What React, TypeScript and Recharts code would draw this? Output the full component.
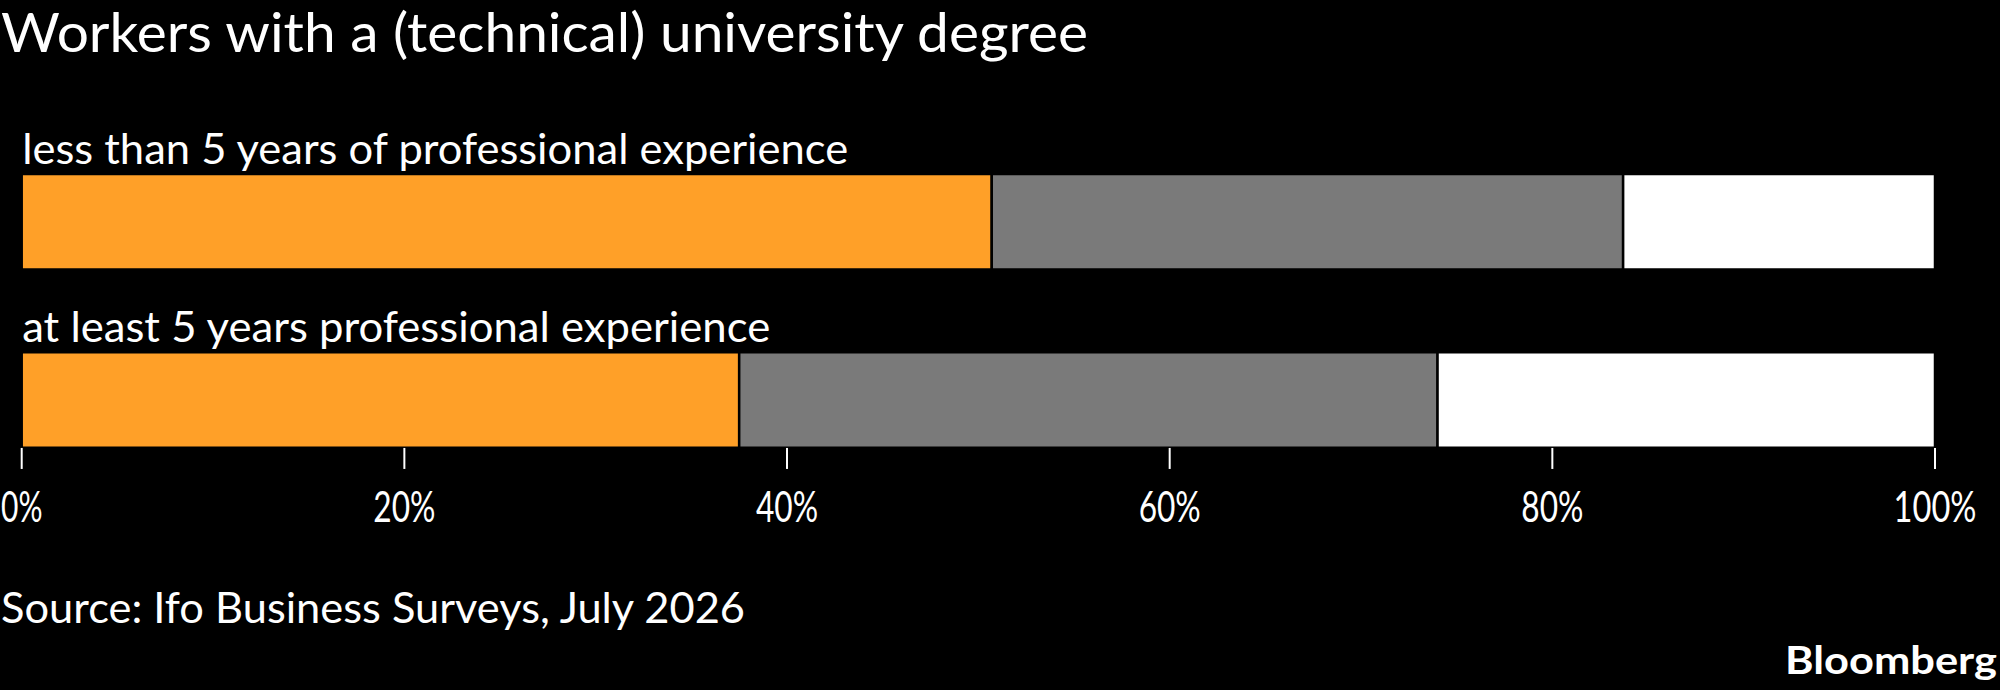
import React from "react";
import { BarChart, Bar, XAxis, YAxis, LabelList } from "recharts";

const categories = [
  "less than 5 years of professional experience",
  "at least 5 years professional experience",
];
const orangeShare = [50.7, 37.5];
const greyShare = [33.0, 36.5];
const whiteShare = [16.3, 26.0];
const xTicks = [0, 20, 40, 60, 80, 100];

const data = categories.map((name, i) => ({
  name,
  orange: orangeShare[i],
  grey: greyShare[i],
  white: whiteShare[i],
}));

const FONT = "Lato, 'Open Sans', sans-serif";

const catWidths: Record<string, number> = {
  [categories[0]]: 826,
  [categories[1]]: 748,
};

function CategoryLabel({ x, y, value }: any) {
  return (
    <text
      x={x + 0.5}
      y={y - 10.5}
      fill="#fff"
      fontSize={42}
      fontFamily={FONT}
      textAnchor="start"
      textLength={catWidths[value]}
      lengthAdjust="spacingAndGlyphs"
    >
      {value}
    </text>
  );
}

function PercentTick({ x, y, payload }: any) {
  const label = `${payload.value}%`;
  return (
    <g>
      <line x1={x} x2={x} y1={y - 41.5} y2={y - 20.5} stroke="#fff" strokeWidth={2} />
      <text
        x={x}
        y={y + 32.5}
        fill="#fff"
        fontSize={43}
        fontFamily={FONT}
        textAnchor="middle"
        textLength={label.length * 20.7}
        lengthAdjust="spacingAndGlyphs"
      >
        {label}
      </text>
    </g>
  );
}

export default function App() {
  return (
    <div
      style={{
        position: "absolute",
        left: 0,
        top: 0,
        width: 2000,
        height: 690,
        background: "#000",
        overflow: "hidden",
      }}
    >
      <svg
        width={2000}
        height={690}
        style={{ position: "absolute", left: 0, top: 0 }}
      >
        <text
          x={1}
          y={52}
          fill="#fff"
          fontSize={54}
          fontFamily={FONT}
          textLength={1087}
          lengthAdjust="spacingAndGlyphs"
        >
          Workers with a (technical) university degree
        </text>
        <text
          x={1}
          y={623}
          fill="#fff"
          fontSize={42}
          fontFamily={FONT}
          textLength={744}
          lengthAdjust="spacingAndGlyphs"
        >
          Source: Ifo Business Surveys, July 2026
        </text>
        <text
          x={1997}
          y={674}
          fill="#fff"
          fontSize={39}
          fontWeight={700}
          fontFamily={FONT}
          textAnchor="end"
          textLength={212}
          lengthAdjust="spacingAndGlyphs"
        >
          Bloomberg
        </text>
      </svg>
      <div style={{ position: "absolute", left: 0, top: 0 }}>
        <BarChart
          width={2000}
          height={690}
          data={data}
          layout="vertical"
          barSize={95.5}
          barCategoryGap={0}
          margin={{ top: 133.05, right: 65, bottom: 140.55, left: 21.7 }}
        >
          <XAxis
            type="number"
            domain={[0, 100]}
            ticks={xTicks}
            interval={0}
            height={60}
            axisLine={false}
            tickLine={false}
            tickSize={0}
            tickMargin={0}
            tick={<PercentTick />}
          />
          <YAxis type="category" dataKey="name" hide />
          <Bar dataKey="orange" stackId="a" fill="#FFA028" stroke="#000" strokeWidth={2.5} isAnimationActive={false}>
            <LabelList dataKey="name" content={<CategoryLabel />} />
          </Bar>
          <Bar dataKey="grey" stackId="a" fill="#7A7A7A" stroke="#000" strokeWidth={2.5} isAnimationActive={false} />
          <Bar dataKey="white" stackId="a" fill="#FFFFFF" stroke="#000" strokeWidth={2.5} isAnimationActive={false} />
        </BarChart>
      </div>
    </div>
  );
}
